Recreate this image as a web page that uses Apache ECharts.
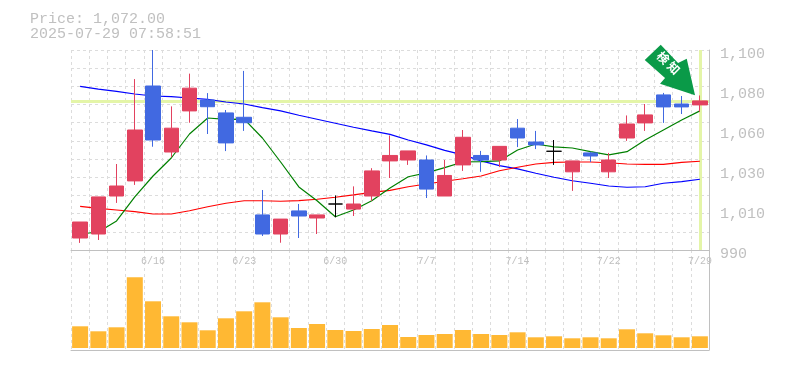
<!DOCTYPE html>
<html><head><meta charset="utf-8">
<style>html,body{margin:0;padding:0;background:#fff}#c{width:785px;height:370px}</style>
<script src="https://cdn.jsdelivr.net/npm/echarts@6/dist/echarts.min.js"></script>
</head><body><div id="c"></div>
<script>
const titleText = 'Price: 1,072.00\n2025-07-29 07:58:51';
const currentPrice = 1072;
const dates = ['6/10','6/11','6/12','6/13','6/16','6/17','6/18','6/19','6/20','6/23','6/24','6/25','6/26','6/27','6/30','7/1','7/2','7/3','7/4','7/7','7/8','7/9','7/10','7/11','7/14','7/15','7/16','7/17','7/18','7/22','7/23','7/24','7/25','7/28','7/29'];
const opens = [996.6,998.8,1019.7,1028,1080.2,1043.9,1066.5,1072.5,1065.4,1063,1009.3,998.8,1011.5,1007.6,1015.3,1012.5,1019.7,1039,1039.5,1039.5,1019.7,1036.8,1042,1039.5,1057,1049.4,1044.3,1033,1043.4,1033,1051.6,1059.9,1075.3,1070.3,1069.8];
const closes = [1005.4,1019.2,1025.2,1056,1050.5,1057,1079,1068.8,1048.9,1060,998.8,1007,1008.7,1009.3,1015.3,1015.3,1033.5,1042,1044.5,1023.5,1031,1052,1039.5,1047,1051.6,1047.8,1044.3,1039,1041.7,1039.5,1059.3,1064.3,1068.7,1068.7,1072];
const lows = [993.9,995.5,1015.9,1025.8,1046.8,1041,1060,1053.8,1044.4,1055.5,997.7,994,996.6,998.8,1008,1008.7,1017,1029.6,1036.8,1018.6,1019.7,1033.5,1033,1035.6,1046.6,1045.5,1036.8,1022.5,1038.4,1029.6,1050,1055.5,1059.9,1064.8,1066];
const highs = [1005.4,1019.2,1037.3,1084,1100,1069,1087,1076.3,1067,1088.5,1023,1007,1015.3,1009.3,1020,1025,1035,1053,1044.5,1042,1039.5,1056,1044.5,1047,1062,1055.5,1050.5,1039,1044,1043.4,1064,1070.3,1076.4,1074.7,1075];
const maLong = [1080,1078.5,1077.2,1075.8,1074.7,1074.4,1073.6,1072.8,1071.4,1070.3,1068.3,1066.5,1064.1,1061.9,1059.7,1057.5,1055.5,1053.6,1050.5,1047.8,1044.8,1042.3,1039,1036.4,1034.6,1032.2,1030,1028.1,1026.7,1025.2,1024.5,1024.8,1026.7,1027.6,1028.9];
const maMid = [1014,1012.9,1012,1011.1,1009.8,1009.8,1011.6,1013.8,1015.7,1017.1,1017.1,1016.8,1017.2,1017.9,1019,1020.3,1021.7,1022.8,1024.8,1026.3,1027.8,1029.2,1030.7,1033.6,1035.5,1037.3,1038.2,1038.4,1038.4,1038,1037.3,1037.1,1037.1,1038.2,1038.8];
const maShort = [998.8,999.9,1006,1019.2,1030.7,1040.6,1053.8,1062.6,1061.8,1062,1051.6,1038.4,1024.7,1017.1,1008.3,1012,1017.1,1024.1,1030.3,1032.4,1035.3,1038.4,1038.6,1039,1045,1048.3,1046.7,1046.1,1044.1,1042.3,1044.1,1050.5,1056,1061.5,1066.5];
const volumes = [21.7,16.7,20.7,70.7,46.7,31.7,25.7,17.7,29.7,36.7,45.7,30.7,20,24,18,17,19,23,11,13,14,18,14,13,15.7,10.7,11.7,9.7,10.7,9.7,18.7,14.7,12.7,10.7,11.7];
const yTickLabels = ['990','1,010','1,030','1,060','1,080','1,100'];

const gridLine = {show:true, lineStyle:{color:'#dcdcdc', type:[3,3], width:1}};
const candles = opens.map((o,i)=>[o,closes[i],lows[i],highs[i]]);
const lineSeries = (name,data,color,extra)=>Object.assign({name,type:'line',data,symbol:'none',smooth:false,z:2,silent:true,
  lineStyle:{color,width:1.2},xAxisIndex:0,yAxisIndex:0},extra||{});

const chart = echarts.init(document.getElementById('c'),null,{renderer:'canvas'});
chart.setOption({
  animation:false,
  backgroundColor:'#fff',
  title:{text:titleText,left:25,top:7,textStyle:{color:'#c0c0c0',fontFamily:'Liberation Mono',fontSize:15,fontWeight:'normal',lineHeight:15}},
  grid:[{left:71,top:50,width:638,height:200},{left:71,top:250,width:638,height:100}],
  xAxis:[
    {type:'category',gridIndex:0,data:dates,boundaryGap:true,
      axisLine:{show:true,lineStyle:{color:'#c0c0c0',width:1}},axisTick:{show:false},
      axisLabel:{interval:(i)=>i%5===4,color:'#c0c0c0',fontFamily:'Liberation Mono',fontSize:10,margin:6,hideOverlap:false},
      splitLine:Object.assign({interval:0},gridLine)},
    {type:'category',gridIndex:1,data:dates,boundaryGap:true,
      axisLine:{show:true,onZero:false,lineStyle:{color:'#c0c0c0',width:1}},axisTick:{show:false},axisLabel:{show:false},
      splitLine:Object.assign({interval:0},gridLine)}
  ],
  yAxis:[
    {type:'value',gridIndex:0,min:990,max:1100,interval:10,position:'left',axisLine:{show:false},axisTick:{show:false},axisLabel:{show:false},splitLine:gridLine},
    {type:'value',gridIndex:0,min:990,max:1100,interval:22,position:'right',
      axisLine:{show:true,lineStyle:{color:'#c0c0c0',width:1}},axisTick:{show:false},splitLine:{show:false},
      axisLabel:{show:true,margin:11,color:'#c0c0c0',fontFamily:'Liberation Mono',fontSize:15,verticalAlign:'top',lineHeight:9,
        formatter:(v,i)=>yTickLabels[i]}},
    {type:'value',gridIndex:1,min:-2,max:98,position:'right',
      axisLine:{show:true,lineStyle:{color:'#c0c0c0',width:1}},axisTick:{show:false},axisLabel:{show:false},splitLine:{show:false}}
  ],
  series:[
    lineSeries('MA75',maLong,'#0000ff',{markLine:{silent:true,z:1,symbol:'none',label:{show:false},animation:false,
      lineStyle:{color:'#e4f5a8',width:3,type:'solid'},
      data:[{yAxis:currentPrice},{xAxis:dates[dates.length-1]}]}}),
    lineSeries('MA25',maMid,'#ff0000'),
    lineSeries('MA5',maShort,'#008000'),
    {name:'Price',type:'candlestick',data:candles,xAxisIndex:0,yAxisIndex:0,z:3,barWidth:15,silent:true,
      itemStyle:{color:'#e2425f',color0:'#4169e1',borderColor:'#e2425f',borderColor0:'#4169e1',borderColorDoji:'#000000',borderWidth:1},
      markPoint:{silent:true,animation:false,
        data:[{coord:[dates[dates.length-1],highs[highs.length-1]],
          symbol:'path://M16 0L33.3 18.3L42 14L50.3 50.6L15.3 39L20.3 33.3L0 15.3Z',
          symbolKeepAspect:false,symbolSize:[50.3,50.6],symbolOffset:[-30,-25.5],
          itemStyle:{color:'#0a9a48'},
          label:{show:true,formatter:'検 知',position:'inside',rotate:-45,offset:[-6,-4],color:'#fff',fontSize:12,fontWeight:'bold',
            fontFamily:'Noto Sans CJK JP'}}]}},
    {name:'Volume',type:'bar',data:volumes,xAxisIndex:1,yAxisIndex:2,barWidth:16,silent:true,itemStyle:{color:'#ffb833'}}
  ]
});
</script></body></html>
